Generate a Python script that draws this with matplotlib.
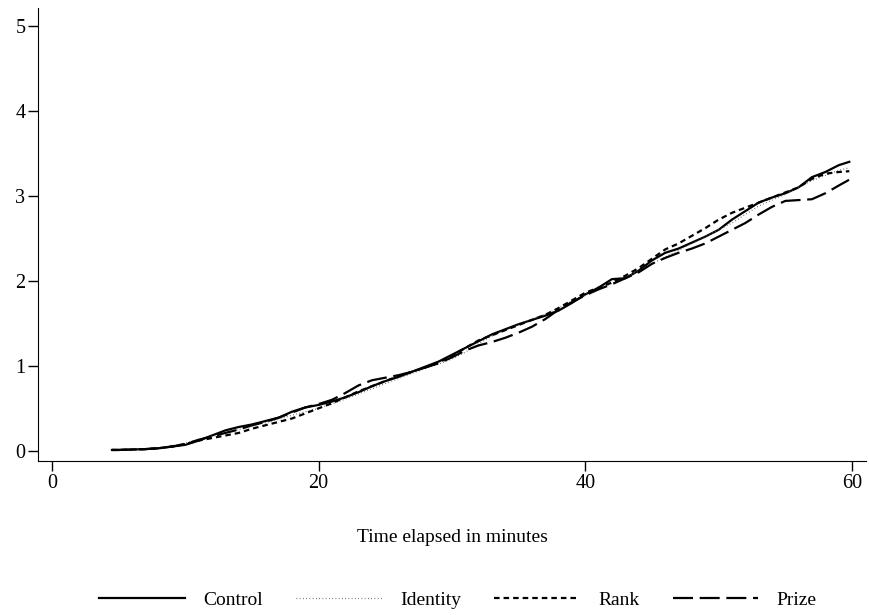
import numpy as np
import matplotlib.pyplot as plt

plt.rcParams['font.family'] = ['Liberation Serif', 'DejaVu Serif']

# minutes elapsed (same grid for every treatment)
minutes = [4.5] + list(range(5, 60)) + [59.8]

control = [0.01, 0.01, 0.015, 0.02, 0.03, 0.05, 0.07, 0.12, 0.18, 0.24, 0.28,
           0.31, 0.35, 0.39, 0.46, 0.51, 0.54, 0.58, 0.63, 0.69, 0.76, 0.82,
           0.87, 0.93, 0.99, 1.05, 1.13, 1.21, 1.29, 1.37, 1.43, 1.49, 1.54,
           1.59, 1.65, 1.74, 1.84, 1.92, 2.02, 2.03, 2.12, 2.24, 2.33, 2.38,
           2.45, 2.52, 2.60, 2.72, 2.82, 2.92, 2.98, 3.03, 3.10, 3.22, 3.28,
           3.36, 3.40]
identity = [0.01, 0.01, 0.015, 0.02, 0.035, 0.06, 0.09, 0.13, 0.17, 0.21, 0.25,
            0.29, 0.33, 0.37, 0.42, 0.46, 0.50, 0.55, 0.61, 0.67, 0.73, 0.79,
            0.85, 0.91, 0.97, 1.02, 1.08, 1.16, 1.26, 1.35, 1.42, 1.49, 1.55,
            1.61, 1.68, 1.76, 1.84, 1.90, 1.97, 2.03, 2.12, 2.20, 2.28, 2.36,
            2.44, 2.52, 2.60, 2.68, 2.78, 2.88, 2.95, 3.02, 3.10, 3.18, 3.24,
            3.30, 3.33]
rank = [0.01, 0.01, 0.015, 0.02, 0.03, 0.05, 0.08, 0.12, 0.15, 0.18, 0.21,
        0.26, 0.30, 0.34, 0.38, 0.44, 0.50, 0.56, 0.63, 0.70, 0.76, 0.82,
        0.88, 0.93, 0.98, 1.04, 1.12, 1.21, 1.30, 1.36, 1.42, 1.48, 1.54,
        1.60, 1.68, 1.77, 1.86, 1.92, 1.98, 2.06, 2.15, 2.26, 2.37, 2.44,
        2.53, 2.62, 2.72, 2.80, 2.86, 2.92, 2.98, 3.04, 3.10, 3.20, 3.26,
        3.28, 3.29]
prize = [0.01, 0.01, 0.015, 0.02, 0.03, 0.05, 0.08, 0.13, 0.17, 0.21, 0.25,
         0.30, 0.34, 0.39, 0.45, 0.51, 0.55, 0.60, 0.68, 0.77, 0.83, 0.86,
         0.89, 0.93, 0.98, 1.03, 1.10, 1.18, 1.24, 1.28, 1.33, 1.39, 1.46,
         1.55, 1.66, 1.75, 1.83, 1.90, 1.96, 2.03, 2.10, 2.20, 2.27, 2.33,
         2.38, 2.44, 2.52, 2.60, 2.68, 2.78, 2.87, 2.94, 2.95, 2.96, 3.03,
         3.12, 3.19]

labels = ["Control", "Identity", "Rank", "Prize"]

fig = plt.figure(figsize=(8.69, 6.15), dpi=100)
ax = fig.add_axes([0.0437, 0.2504, 0.9528, 0.7366])

ax.plot(minutes, control, color="black", lw=1.6, label=labels[0])
ax.plot(minutes, identity, color="#555555", lw=0.9, dashes=(0.6, 2.0), label=labels[1])
ax.plot(minutes, rank, color="black", lw=1.6, dashes=(2.5, 1.8), label=labels[2])
ax.plot(minutes, prize, color="black", lw=1.6, dashes=(9, 3), label=labels[3])

ax.set_xlim(-1.05, 61.05)
ax.set_ylim(-0.12, 5.21)
ax.set_xticks([0, 20, 40, 60])
ax.set_yticks([0, 1, 2, 3, 4, 5])
ax.spines['top'].set_visible(False)
ax.spines['right'].set_visible(False)
ax.tick_params(direction='out', length=7, width=1, labelsize=14.5, pad=2)
ax.set_xlabel("Time elapsed in minutes", fontsize=14, labelpad=26)

fig.legend(loc="center", bbox_to_anchor=(0.527, 0.024), ncol=4, frameon=False,
           fontsize=14, handlelength=4.4, columnspacing=1.7, handletextpad=0.95)

fig.savefig("out.png", dpi=100)
